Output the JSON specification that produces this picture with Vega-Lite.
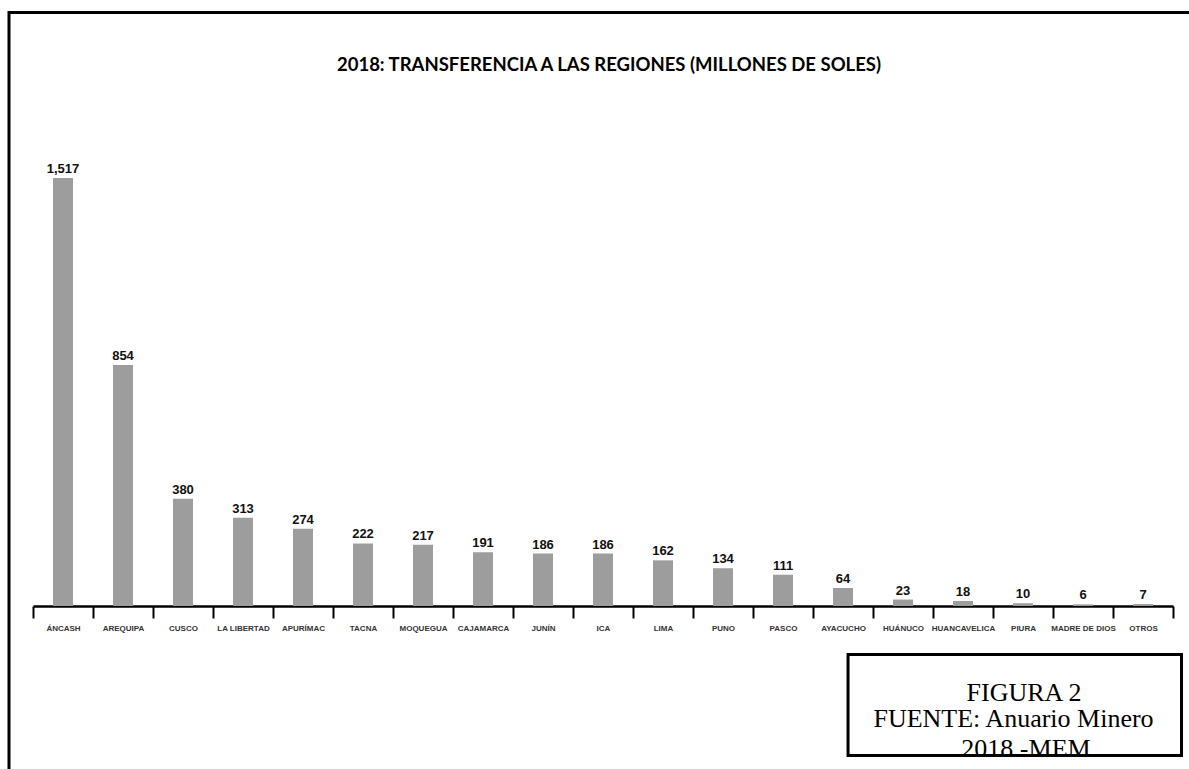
{
  "$schema": "https://vega.github.io/schema/vega-lite/v6.json",
  "width": 1200,
  "height": 780,
  "autosize": {"type": "none"},
  "padding": {"left": 9, "top": 12.5, "right": -20, "bottom": -23.5},
  "background": "white",
  "config": {"view": {"stroke": "black", "strokeWidth": 3}},
  "title": {
    "text": "2018: TRANSFERENCIA A LAS REGIONES (MILLONES DE SOLES)",
    "font": "Lato",
    "fontSize": 18.5,
    "fontWeight": "bold",
    "color": "black",
    "anchor": "middle",
    "baseline": "alphabetic",
    "offset": -76.5
  },
  "layer": [
    {
      "data": {
        "values": [
          {"region": "ÁNCASH", "valor": 1517},
          {"region": "AREQUIPA", "valor": 854},
          {"region": "CUSCO", "valor": 380},
          {"region": "LA LIBERTAD", "valor": 313},
          {"region": "APURÍMAC", "valor": 274},
          {"region": "TACNA", "valor": 222},
          {"region": "MOQUEGUA", "valor": 217},
          {"region": "CAJAMARCA", "valor": 191},
          {"region": "JUNÍN", "valor": 186},
          {"region": "ICA", "valor": 186},
          {"region": "LIMA", "valor": 162},
          {"region": "PUNO", "valor": 134},
          {"region": "PASCO", "valor": 111},
          {"region": "AYACUCHO", "valor": 64},
          {"region": "HUÁNUCO", "valor": 23},
          {"region": "HUANCAVELICA", "valor": 18},
          {"region": "PIURA", "valor": 10},
          {"region": "MADRE DE DIOS", "valor": 6},
          {"region": "OTROS", "valor": 7}
        ]
      },
      "encoding": {
        "x": {
          "field": "region",
          "type": "nominal",
          "sort": null,
          "scale": {"type": "band", "range": [24, 1164], "paddingInner": 0, "paddingOuter": 0},
          "axis": {
            "title": null,
            "labelAngle": 0,
            "labelFont": "Liberation Sans",
            "labelFontSize": 8,
            "labelFontWeight": "bold",
            "labelColor": "#333333",
            "labelPadding": 6,
            "labelOverlap": false,
            "tickSize": 12,
            "tickWidth": 2,
            "tickColor": "black",
            "domainColor": "black",
            "domainWidth": 2.5,
            "tickBand": "extent",
            "grid": false,
            "offset": -186.5
          }
        },
        "y": {
          "field": "valor",
          "type": "quantitative",
          "scale": {"domain": [-661, 2104], "nice": false, "zero": false},
          "axis": null
        }
      },
      "layer": [
        {"mark": {"type": "bar", "color": "#9d9d9d", "width": {"band": 0.333}}},
        {
          "mark": {"type": "text", "font": "Liberation Sans", "fontSize": 13, "fontWeight": "bold", "color": "#111111", "baseline": "alphabetic", "dy": -5},
          "encoding": {"text": {"field": "valor", "type": "quantitative", "format": ","}}
        }
      ]
    },
    {
      "data": {
        "values": [
          {"nota": "FIGURA 2", "nx": 0.8458, "ny": -335.7},
          {"nota": "FUENTE: Anuario Minero", "nx": 0.8371, "ny": -430.0},
          {"nota": "2018 -MEM", "nx": 0.8475, "ny": -535.3}
        ]
      },
      "mark": {"type": "text", "font": "Liberation Serif", "fontSize": 26, "color": "black", "baseline": "alphabetic", "align": "center"},
      "encoding": {
        "x": {"field": "nx", "type": "quantitative", "scale": {"domain": [0, 1], "nice": false, "zero": false}, "axis": null},
        "y": {"field": "ny", "type": "quantitative", "axis": null},
        "text": {"field": "nota"}
      }
    },
    {
      "data": {"values": [{"bx1": 0.6992, "bx2": 0.9771, "by1": -171.9, "by2": -530.0}]},
      "mark": {"type": "rect", "fill": null, "fillOpacity": 0, "stroke": "black", "strokeWidth": 3},
      "encoding": {
        "x": {"field": "bx1", "type": "quantitative", "scale": {"domain": [0, 1], "nice": false, "zero": false}, "axis": null},
        "x2": {"field": "bx2"},
        "y": {"field": "by1", "type": "quantitative", "axis": null},
        "y2": {"field": "by2"}
      }
    }
  ],
  "resolve": {"scale": {"x": "independent"}, "axis": {"x": "independent"}}
}
